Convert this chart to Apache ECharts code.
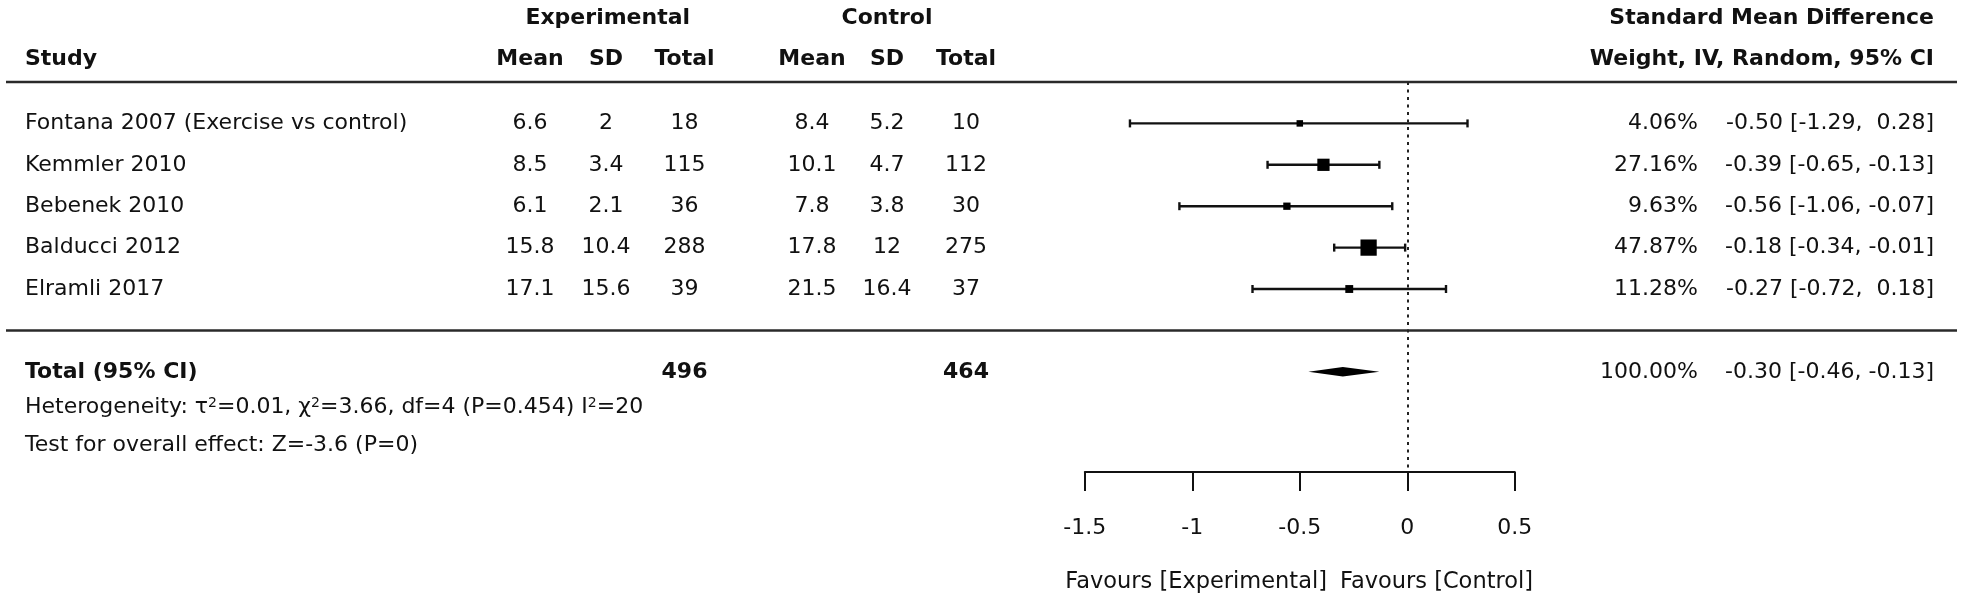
<!DOCTYPE html>
<html><head><meta charset="utf-8">
<script src="https://cdn.jsdelivr.net/npm/echarts@6/dist/echarts.min.js"></script>
<style>html,body{margin:0;padding:0;background:#fff}#c{width:1962px;height:601px}</style>
</head><body><div id="c"></div>
<script>
// ---------- data ----------
const studies  = ['Fontana 2007 (Exercise vs control)', 'Kemmler 2010', 'Bebenek 2010', 'Balducci 2012', 'Elramli 2017'];
const expMean  = [6.6, 8.5, 6.1, 15.8, 17.1];
const expSD    = [2, 3.4, 2.1, 10.4, 15.6];
const expN     = [18, 115, 36, 288, 39];
const ctlMean  = [8.4, 10.1, 7.8, 17.8, 21.5];
const ctlSD    = [5.2, 4.7, 3.8, 12, 16.4];
const ctlN     = [10, 112, 30, 275, 37];
const weights  = [4.06, 27.16, 9.63, 47.87, 11.28];
const smd      = [-0.50, -0.39, -0.56, -0.18, -0.27];
const ciLow    = [-1.29, -0.65, -1.06, -0.34, -0.72];
const ciHigh   = [0.28, -0.13, -0.07, -0.01, 0.18];
const totalExpN = 496;
const totalCtlN = 464;
const totalWeight = 100.00;
const pooled   = [-0.30, -0.46, -0.13]; // estimate, low, high
const xTicks   = [-1.5, -1, -0.5, 0, 0.5];
const heteroText = 'Heterogeneity: τ{sup|2}=0.01, χ{sup|2}=3.66, df=4 (P=0.454) I{sup|2}=20';
const overallText = 'Test for overall effect: Z=-3.6 (P=0)';
const favLeft = 'Favours [Experimental]';
const favRight = 'Favours [Control]';

// ---------- layout ----------
const FONT = 'DejaVu Sans';
const FS = 22;
const TXT = '#111';
const colX = { name: 25, eMean: 530, eSD: 606, eN: 684.5, cMean: 812, cSD: 887, cN: 966, weight: 1698, ci: 1934 };
const totalRow = 6;

const chart = echarts.init(document.getElementById('c'), null, { renderer: 'canvas' });

function fmt(v) { return v.toFixed(2).padStart(5, ' '); }
function ciText(e, l, h) { return e.toFixed(2) + ' [' + fmt(l) + ', ' + fmt(h) + ']'; }

const option = {
  animation: false,
  grid: { left: 1084.8, width: 430, top: 82, height: 390, containLabel: false },
  xAxis: {
    type: 'value', min: xTicks[0], max: xTicks[xTicks.length - 1], interval: 0.5,
    position: 'bottom',
    axisLine: { show: true, onZero: false, lineStyle: { color: '#111', width: 2 } },
    axisTick: { show: true, length: 19, lineStyle: { color: '#111', width: 2 } },
    axisLabel: { fontFamily: FONT, fontSize: FS, color: TXT, margin: 45,
      formatter: v => String(xTicks.find(t => Math.abs(t - v) < 1e-9) ?? v) },
    splitLine: { show: false }
  },
  yAxis: { type: 'value', min: -1, max: 8.42, inverse: true, show: false },
  series: [
    {
      type: 'custom',
      data: studies.map((s, i) => [i, smd[i], ciLow[i], ciHigh[i], weights[i]]),
      renderItem: (params, api) => {
        const row = api.value(0);
        const p = api.coord([api.value(1), row]);
        const l = api.coord([api.value(2), row]);
        const h = api.coord([api.value(3), row]);
        const size = Math.max(6.5, 2.35 * Math.sqrt(api.value(4)));
        const cap = 4;
        const ls = { stroke: '#111', lineWidth: 2.4 };
        return { type: 'group', children: [
          { type: 'line', shape: { x1: l[0], y1: l[1], x2: h[0], y2: h[1] }, style: ls },
          { type: 'line', shape: { x1: l[0], y1: l[1] - cap, x2: l[0], y2: l[1] + cap }, style: ls },
          { type: 'line', shape: { x1: h[0], y1: h[1] - cap, x2: h[0], y2: h[1] + cap }, style: ls },
          { type: 'rect', shape: { x: p[0] - size / 2, y: p[1] - size / 2, width: size, height: size }, style: { fill: '#000' } }
        ]};
      },
      markLine: {
        silent: true, symbol: 'none', label: { show: false },
        lineStyle: { type: [3, 4.5], color: '#222', width: 2 },
        data: [{ xAxis: 0 }]
      }
    },
    {
      type: 'custom',
      data: [[totalRow, pooled[0], pooled[1], pooled[2]]],
      renderItem: (params, api) => {
        const row = api.value(0);
        const p = api.coord([api.value(1), row]);
        const l = api.coord([api.value(2), row]);
        const h = api.coord([api.value(3), row]);
        const hh = 4.7;
        return { type: 'polygon', shape: { points: [[l[0], l[1]], [p[0], p[1] - hh], [h[0], h[1]], [p[0], p[1] + hh]] },
          style: { fill: '#000' } };
      }
    }
  ]
};
chart.setOption(option);

// ---------- table text ----------
const g = [];
function txt(text, x, y, align, bold, extra) {
  const style = Object.assign({ text, x: 0, y: 0, fontFamily: FONT, fontSize: FS, fontWeight: bold ? 'bold' : 'normal',
    fill: TXT, align: align, verticalAlign: 'middle' }, extra || {});
  g.push({ type: 'text', x, y, silent: true, style });
}
function rowY(r) { return chart.convertToPixel({ gridIndex: 0 }, [0, r])[1]; }

const h1 = 18, h2 = 59;
txt('Experimental', (colX.eMean + colX.eN) / 2 + 0.5, h1, 'center', true);
txt('Control', colX.cSD, h1, 'center', true);
txt('Standard Mean Difference', colX.ci, h1, 'right', true);
txt('Study', colX.name, h2, 'left', true);
txt('Mean', colX.eMean, h2, 'center', true);
txt('SD', colX.eSD, h2, 'center', true);
txt('Total', colX.eN, h2, 'center', true);
txt('Mean', colX.cMean, h2, 'center', true);
txt('SD', colX.cSD, h2, 'center', true);
txt('Total', colX.cN, h2, 'center', true);
txt('Weight, IV, Random, 95% CI', colX.ci, h2, 'right', true);

studies.forEach((s, i) => {
  const y = rowY(i);
  txt(s, colX.name, y, 'left');
  txt(String(expMean[i]), colX.eMean, y, 'center');
  txt(String(expSD[i]), colX.eSD, y, 'center');
  txt(String(expN[i]), colX.eN, y, 'center');
  txt(String(ctlMean[i]), colX.cMean, y, 'center');
  txt(String(ctlSD[i]), colX.cSD, y, 'center');
  txt(String(ctlN[i]), colX.cN, y, 'center');
  txt(weights[i].toFixed(2) + '%', colX.weight, y, 'right');
  txt(ciText(smd[i], ciLow[i], ciHigh[i]), colX.ci, y, 'right');
});

const ty = rowY(totalRow);
txt('Total (95% CI)', colX.name, ty, 'left', true);
txt(String(totalExpN), colX.eN, ty, 'center', true);
txt(String(totalCtlN), colX.cN, ty, 'center', true);
txt(totalWeight.toFixed(2) + '%', colX.weight, ty, 'right');
txt(ciText(pooled[0], pooled[1], pooled[2]), colX.ci, ty, 'right');

txt(heteroText, colX.name, 407, 'left', false, {
  rich: { sup: { fontFamily: FONT, fontSize: 14, fill: TXT, verticalAlign: 'top', color: TXT } }
});
txt(overallText, colX.name, 445, 'left');

txt(favLeft, 1327, 582, 'right', false, { fontSize: 22.5 });
txt(favRight, 1340, 582, 'left', false, { fontSize: 22.5 });

// rules
const ruleStyle = { stroke: '#2a2a2a', lineWidth: 2.5 };
[rowY(-1), rowY(5)].forEach(y => {
  g.push({ type: 'line', silent: true, shape: { x1: 6, y1: y, x2: 1957, y2: y }, style: ruleStyle });
});

chart.setOption({ graphic: g });
</script>
</body></html>
